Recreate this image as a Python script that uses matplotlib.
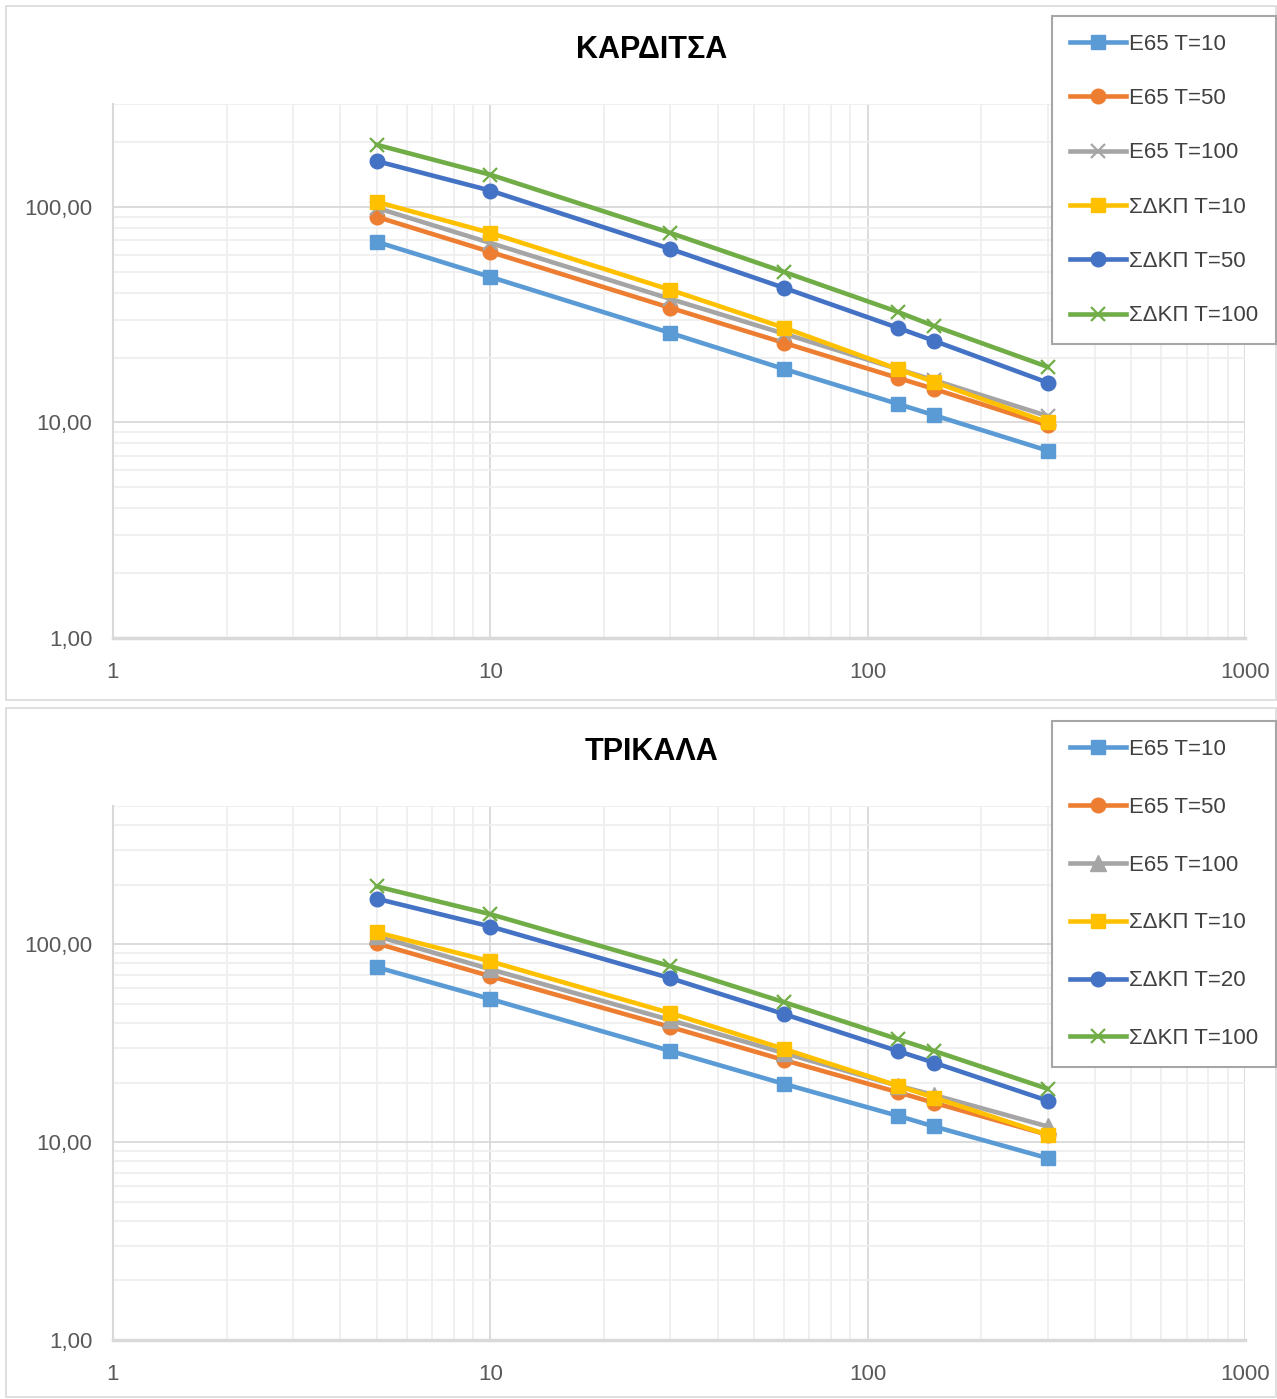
import matplotlib
matplotlib.use("Agg")
import matplotlib.pyplot as plt
from matplotlib.ticker import FixedLocator, FuncFormatter, LogLocator, NullFormatter
from matplotlib.patches import Rectangle

plt.rcParams['font.family'] = ['Liberation Sans', 'DejaVu Sans']

durations = [5, 10, 30, 60, 120, 150, 300]

# ΚΑΡΔΙΤΣΑ
k_labels = ["E65 T=10", "E65 T=50", "E65 T=100", "ΣΔΚΠ T=10", "ΣΔΚΠ T=50", "ΣΔΚΠ T=100"]
k_e65_t10 = [68.8, 47.3, 26.0, 17.7, 12.2, 10.8, 7.4]
k_e65_t50 = [89.9, 61.8, 34.0, 23.4, 16.1, 14.3, 9.7]
k_e65_t100 = [98.9, 68.0, 37.4, 25.8, 17.7, 15.7, 10.7]
k_sdkp_t10 = [105.5, 75.7, 41.2, 27.5, 17.7, 15.4, 10.0]
k_sdkp_t50 = [163.0, 119.0, 63.8, 42.1, 27.5, 23.9, 15.3]
k_sdkp_t100 = [194.0, 141.0, 75.7, 49.9, 32.6, 28.0, 18.1]

# ΤΡΙΚΑΛΑ
t_labels = ["E65 T=10", "E65 T=50", "E65 T=100", "ΣΔΚΠ T=10", "ΣΔΚΠ T=20", "ΣΔΚΠ T=100"]
t_e65_t10 = [76.6, 52.9, 28.9, 19.7, 13.6, 12.0, 8.3]
t_e65_t50 = [101.0, 69.0, 38.2, 26.0, 17.9, 15.8, 10.9]
t_e65_t100 = [110.0, 74.8, 41.4, 28.2, 19.3, 17.3, 12.0]
t_sdkp_t10 = [115.0, 82.0, 44.9, 29.6, 19.3, 16.8, 10.9]
t_sdkp_t20 = [170.0, 123.0, 67.4, 44.4, 28.9, 25.2, 16.2]
t_sdkp_t100 = [196.0, 142.0, 77.5, 51.0, 33.2, 28.9, 18.6]

x_ticks = [1, 10, 100, 1000]
y_ticks = [1, 10, 100]

colors = ["#5B9BD5", "#ED7D31", "#A5A5A5", "#FFC000", "#4472C4", "#70AD47"]

W, H = 1277, 1399
fig = plt.figure(figsize=(W / 100, H / 100), dpi=100)

# chart area borders
for (x0, y0, x1, y1) in [(6, 6, 1276, 700), (6, 708, 1276, 1397)]:
    fig.patches.append(Rectangle((x0 / W, 1 - y1 / H), (x1 - x0) / W, (y1 - y0) / H,
                                 transform=fig.transFigure, fill=False,
                                 edgecolor="#d9d9d9", linewidth=1.2))

def make_panel(top_px, title, title_y, series, labels, markers, ymax, leg_box, lspace):
    left, right, bottom_px = 113, 1245, top_px + 534
    ax = fig.add_axes([left / W, 1 - bottom_px / H, (right - left) / W, 534 / H])
    ax.set_xscale("log")
    ax.set_yscale("log")
    ax.set_xlim(1, 1000)
    ax.set_ylim(1, ymax)
    ax.xaxis.set_major_locator(FixedLocator(x_ticks))
    ax.yaxis.set_major_locator(FixedLocator(y_ticks))
    ax.xaxis.set_minor_locator(LogLocator(base=10, subs=range(2, 10)))
    ax.yaxis.set_minor_locator(LogLocator(base=10, subs=range(2, 10)))
    ax.xaxis.set_minor_formatter(NullFormatter())
    ax.yaxis.set_minor_formatter(NullFormatter())
    ax.xaxis.set_major_formatter(FuncFormatter(lambda v, p: f"{int(round(v))}"))
    ax.yaxis.set_major_formatter(FuncFormatter(lambda v, p: f"{v:.2f}".replace(".", ",")))
    ax.grid(True, which="major", color="#d9d9d9", linewidth=1.3)
    ax.grid(True, which="minor", color="#efefef", linewidth=1.3)
    ax.set_axisbelow(True)
    ax.tick_params(which="both", length=0, labelsize=16, colors="#595959")
    ax.tick_params(axis="x", pad=17)
    ax.tick_params(axis="y", pad=15)
    for s in ["top", "right"]:
        ax.spines[s].set_visible(False)
    for s in ["left", "bottom"]:
        ax.spines[s].set_color("#d9d9d9")
        ax.spines[s].set_linewidth(1.5)
    ax.spines["bottom"].set_linewidth(2.5)

    handles = []
    for vals, lab, col, mk in zip(series, labels, colors, markers):
        if mk == "x":
            kw = dict(marker="x", markersize=10, markeredgewidth=1.6)
        elif mk == "^":
            kw = dict(marker="^", markersize=11)
        else:
            kw = dict(marker=mk, markersize=10.5)
        h, = ax.plot(durations, vals, color=col, linewidth=3.3, label=lab,
                     markerfacecolor=col, markeredgecolor=col, **kw)
        handles.append(h)

    fig.text(0.5105, 1 - title_y / H, title, ha="center", va="center",
             fontsize=22, fontweight="bold", color="black")

    x0, y0, x1, y1 = leg_box
    leg = fig.legend(handles=handles, loc="upper right",
                     bbox_to_anchor=(x1 / W, 1 - y0 / H, 0, 0),
                     frameon=True, fancybox=False, fontsize=16,
                     handlelength=2.5, handletextpad=0.15, labelspacing=lspace,
                     borderpad=0.8, borderaxespad=0)
    fr = leg.get_frame()
    fr.set_edgecolor("#a6a6a6")
    fr.set_linewidth(1.5)
    fr.set_facecolor("white")
    fr.set_alpha(1)
    for t in leg.get_texts():
        t.set_color("#404040")
    return ax

make_panel(104, "ΚΑΡΔΙΤΣΑ", 50,
           [k_e65_t10, k_e65_t50, k_e65_t100, k_sdkp_t10, k_sdkp_t50, k_sdkp_t100],
           k_labels, ["s", "o", "x", "s", "o", "x"], 300, (1049, 16, 1276, 341), 1.5)
make_panel(806, "ΤΡΙΚΑΛΑ", 752,
           [t_e65_t10, t_e65_t50, t_e65_t100, t_sdkp_t10, t_sdkp_t20, t_sdkp_t100],
           t_labels, ["s", "o", "^", "s", "o", "x"], 500, (1051, 721, 1276, 1065), 1.66)

fig.savefig("out.png", dpi=100, facecolor="white")
